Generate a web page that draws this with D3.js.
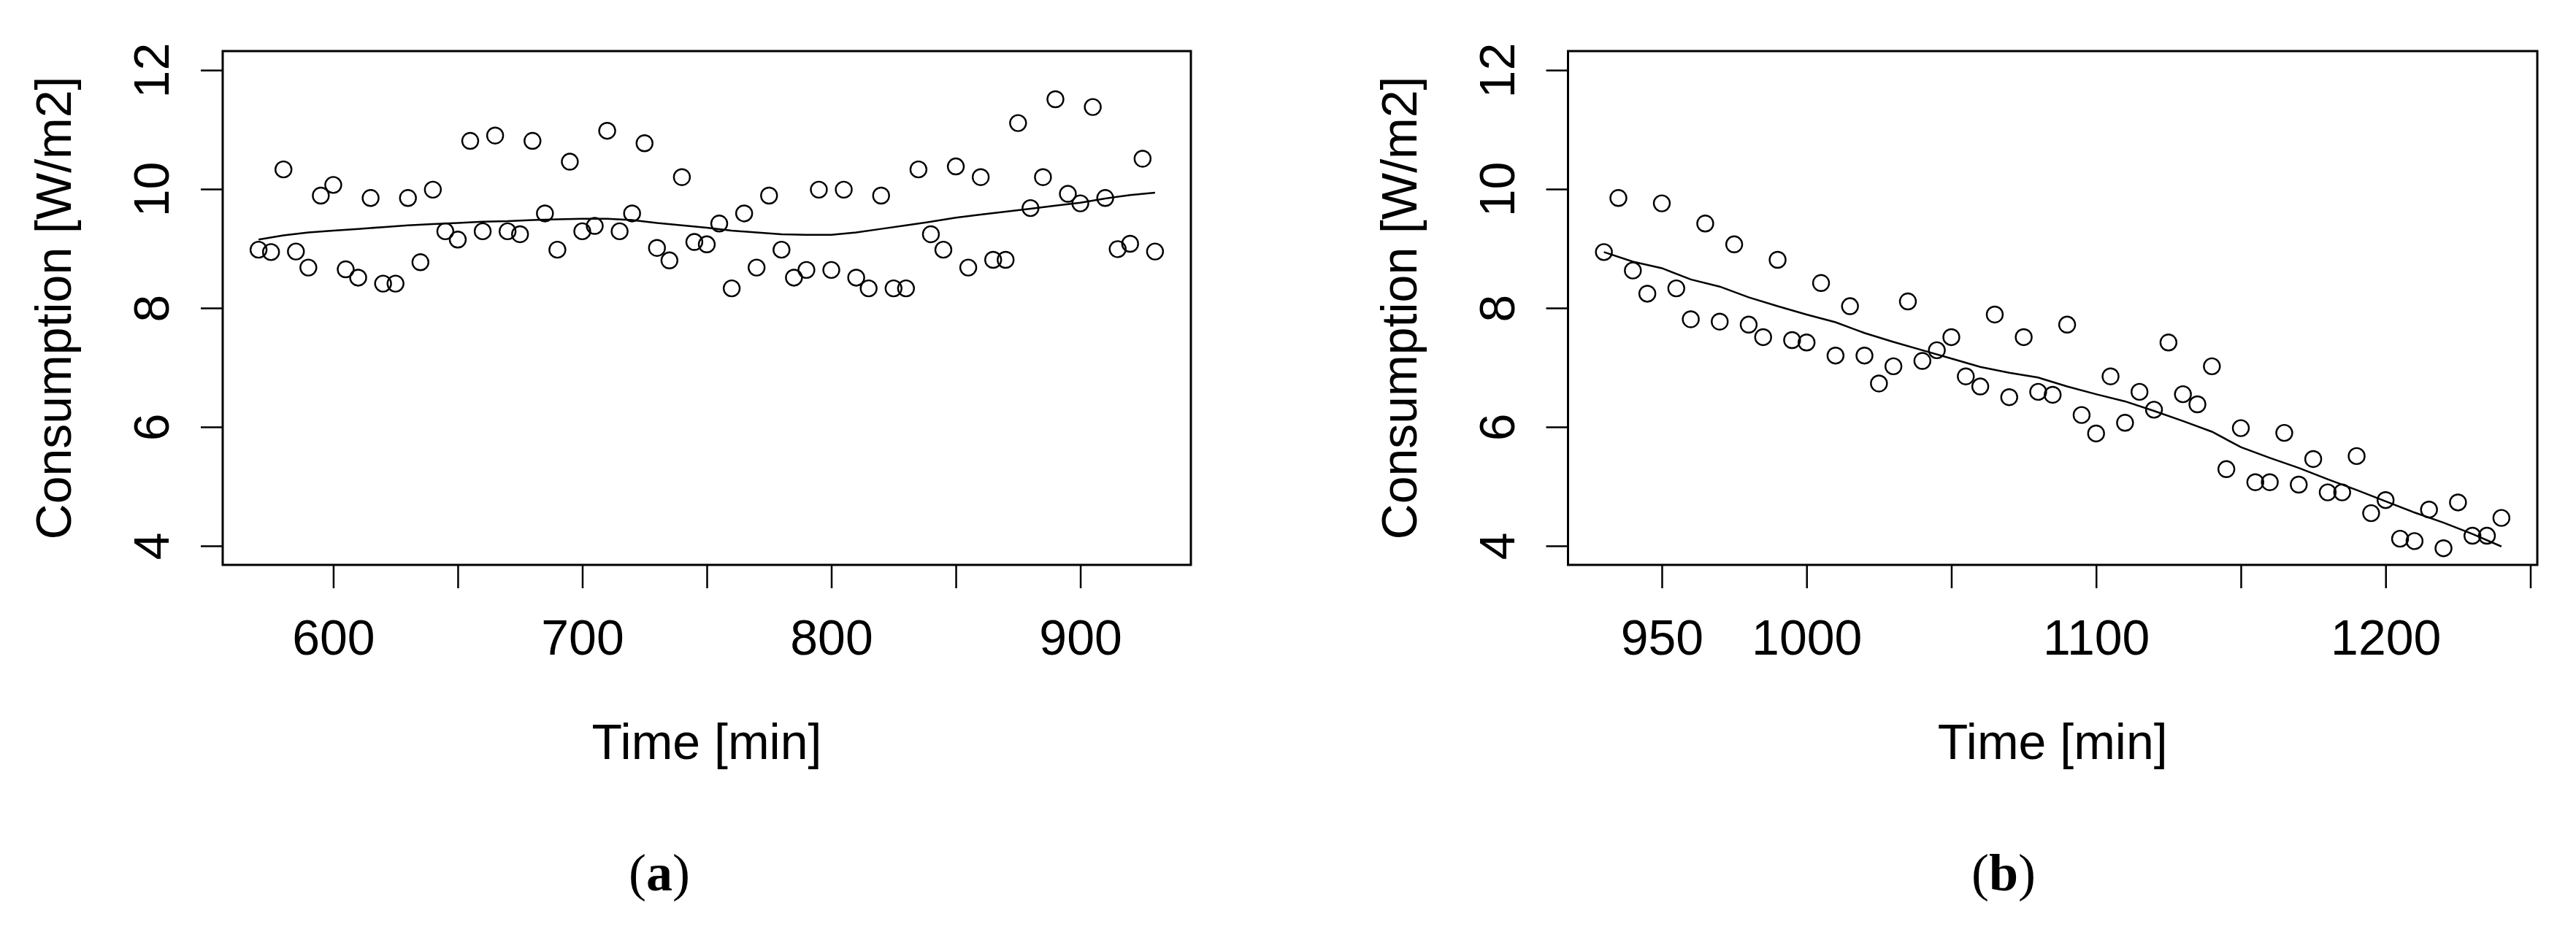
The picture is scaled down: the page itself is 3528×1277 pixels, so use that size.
<!DOCTYPE html>
<html>
<head>
<meta charset="utf-8">
<script src="https://cdn.jsdelivr.net/npm/d3@7"></script>
<style>
  html, body { margin: 0; padding: 0; background: #fff; }
  svg { display: block; }
</style>
</head>
<body>
<script>
// ---------------- DATA ----------------
const timeA = [570,575,580,585,590,595,600,605,610,615,620,625,630,635,640,645,650,655,660,665,670,675,680,685,690,695,700,705,710,715,720,725,730,735,740,745,750,755,760,765,770,775,780,785,790,795,800,805,810,815,820,825,830,835,840,845,850,855,860,865,870,875,880,885,890,895,900,905,910,915,920,925,930];
const consumptionA = [8.98,8.94,10.33,8.95,8.68,9.89,10.07,8.65,8.51,9.85,8.41,8.41,9.85,8.77,9.99,9.29,9.15,10.81,9.29,10.90,9.29,9.24,10.81,9.59,8.98,10.46,9.29,9.38,10.98,9.29,9.59,10.77,9.01,8.80,10.20,9.11,9.07,9.42,8.33,9.59,8.68,9.89,8.98,8.51,8.64,9.99,8.64,9.99,8.51,8.33,9.89,8.33,8.33,10.33,9.24,8.98,10.38,8.68,10.20,8.81,8.81,11.11,9.68,10.20,11.51,9.92,9.76,11.38,9.85,8.99,9.08,10.51,8.95];

const smoothTimeA = [570,580,590,600,610,620,630,640,650,660,670,680,690,700,710,720,730,740,750,760,770,780,790,800,810,820,830,840,850,860,870,880,890,900,910,920,930];
const smoothA = [9.15,9.22,9.27,9.30,9.33,9.36,9.39,9.41,9.43,9.45,9.46,9.48,9.49,9.50,9.50,9.48,9.43,9.39,9.35,9.30,9.27,9.24,9.23,9.23,9.27,9.33,9.39,9.45,9.52,9.57,9.62,9.67,9.72,9.77,9.84,9.90,9.94];

const timeB = [930,935,940,945,950,955,960,965,970,975,980,985,990,995,1000,1005,1010,1015,1020,1025,1030,1035,1040,1045,1050,1055,1060,1065,1070,1075,1080,1085,1090,1095,1100,1105,1110,1115,1120,1125,1130,1135,1140,1145,1150,1155,1160,1165,1170,1175,1180,1185,1190,1195,1200,1205,1210,1215,1220,1225,1230,1235,1240];
const consumptionB = [8.94,9.85,8.63,8.24,9.76,8.33,7.81,9.42,7.77,9.07,7.72,7.51,8.81,7.46,7.42,8.42,7.20,8.03,7.20,6.73,7.02,8.11,7.11,7.29,7.51,6.85,6.68,7.89,6.50,7.51,6.59,6.54,7.72,6.20,5.89,6.85,6.07,6.59,6.29,7.42,6.55,6.38,7.02,5.29,5.98,5.07,5.07,5.90,5.03,5.46,4.90,4.90,5.51,4.55,4.77,4.12,4.08,4.61,3.96,4.73,4.17,4.17,4.47];

const smoothTimeB = [930,940,950,960,970,980,990,1000,1010,1020,1030,1040,1050,1060,1070,1080,1090,1100,1110,1120,1130,1140,1150,1160,1170,1180,1190,1200,1210,1220,1230,1240];
const smoothB = [8.94,8.78,8.67,8.48,8.36,8.18,8.03,7.89,7.76,7.58,7.43,7.29,7.15,7.01,6.91,6.83,6.68,6.55,6.43,6.27,6.10,5.92,5.66,5.48,5.31,5.12,4.94,4.75,4.56,4.39,4.20,3.99];

const yTicks = [4, 6, 8, 10, 12];
const xTicksA = [600, 650, 700, 750, 800, 850, 900];
const xLabelsA = [600, 700, 800, 900];
const xTicksB = [950, 1000, 1050, 1100, 1150, 1200, 1250];
const xLabelsB = [950, 1000, 1100, 1200];
const xTitle = "Time [min]";
const yTitle = "Consumption [W/m2]";
const panelLabels = ["a", "b"];

// ---------------- LAYOUT ----------------
const W = 3528, H = 1277;
const FONT = "'Liberation Sans', Arial, sans-serif";
const FS = 68;

const svg = d3.select("body").append("svg")
  .attr("width", W).attr("height", H)
  .style("background", "#fff");

function expand(lo, hi) { const d = (hi - lo) * 0.04; return [lo - d, hi + d]; }

function panel(cfg) {
  const { left, right, top, bottom, times, values, sTimes, sValues, xTicks, xLabels, label, labelX } = cfg;
  const x = d3.scaleLinear().domain(expand(d3.min(times), d3.max(times))).range([left, right]);
  const y = d3.scaleLinear().domain(expand(4, 12)).range([bottom, top]);
  const g = svg.append("g");

  // x axis
  const xa = g.append("g").attr("transform", `translate(0,${bottom})`)
    .call(d3.axisBottom(x).tickValues(xTicks).tickSize(32).tickSizeOuter(0)
      .tickFormat(d => xLabels.includes(d) ? String(d) : ""));
  xa.select(".domain").remove();
  xa.selectAll(".tick line").attr("stroke", "#000").attr("stroke-width", 2.5);
  xa.selectAll(".tick text").attr("y", 123).attr("dy", null)
    .attr("fill", "#000").style("font-family", FONT).style("font-size", FS + "px");

  // y axis
  const ya = g.append("g").attr("transform", `translate(${left},0)`)
    .call(d3.axisLeft(y).tickValues(yTicks).tickSize(30).tickSizeOuter(0));
  ya.select(".domain").remove();
  ya.selectAll(".tick line").attr("stroke", "#000").attr("stroke-width", 2.5);
  ya.selectAll(".tick text")
    .attr("x", 0).attr("y", -74).attr("dy", null)
    .attr("transform", "rotate(-90)")
    .attr("text-anchor", "middle")
    .attr("fill", "#000").style("font-family", FONT).style("font-size", FS + "px");

  // box
  g.append("rect").attr("x", left).attr("y", top)
    .attr("width", right - left).attr("height", bottom - top)
    .attr("fill", "none").attr("stroke", "#000").attr("stroke-width", 3);

  // smooth line
  const line = d3.line().x(d => x(d[0])).y(d => y(d[1]));
  g.append("path").datum(sTimes.map((t, i) => [t, sValues[i]]))
    .attr("d", line).attr("fill", "none").attr("stroke", "#000").attr("stroke-width", 2.5);

  // points
  g.append("g").selectAll("circle").data(times.map((t, i) => [t, values[i]]))
    .join("circle")
    .attr("cx", d => x(d[0])).attr("cy", d => y(d[1])).attr("r", 11)
    .attr("fill", "none").attr("stroke", "#000").attr("stroke-width", 2.4);

  // titles
  g.append("text").attr("x", (left + right) / 2).attr("y", 1040)
    .attr("text-anchor", "middle").style("font-family", FONT).style("font-size", FS + "px")
    .text(xTitle);
  g.append("text").attr("transform", `translate(${left - 208},${(top + bottom) / 2}) rotate(-90)`)
    .attr("text-anchor", "middle").style("font-family", FONT).style("font-size", FS + "px")
    .text(yTitle);

  // panel label
  const pl = g.append("text").attr("x", labelX).attr("y", 1220)
    .attr("text-anchor", "middle")
    .style("font-family", "'Liberation Serif', 'Times New Roman', serif").style("font-size", "72px");
  pl.append("tspan").text("(");
  pl.append("tspan").style("font-weight", "bold").text(label);
  pl.append("tspan").text(")");
}

panel({ left: 305, right: 1631, top: 70, bottom: 774,
  times: timeA, values: consumptionA, sTimes: smoothTimeA, sValues: smoothA,
  xTicks: xTicksA, xLabels: xLabelsA, label: panelLabels[0], labelX: 903 });

panel({ left: 2147.5, right: 3475, top: 70, bottom: 774,
  times: timeB, values: consumptionB, sTimes: smoothTimeB, sValues: smoothB,
  xTicks: xTicksB, xLabels: xLabelsB, label: panelLabels[1], labelX: 2744 });
</script>
</body>
</html>
